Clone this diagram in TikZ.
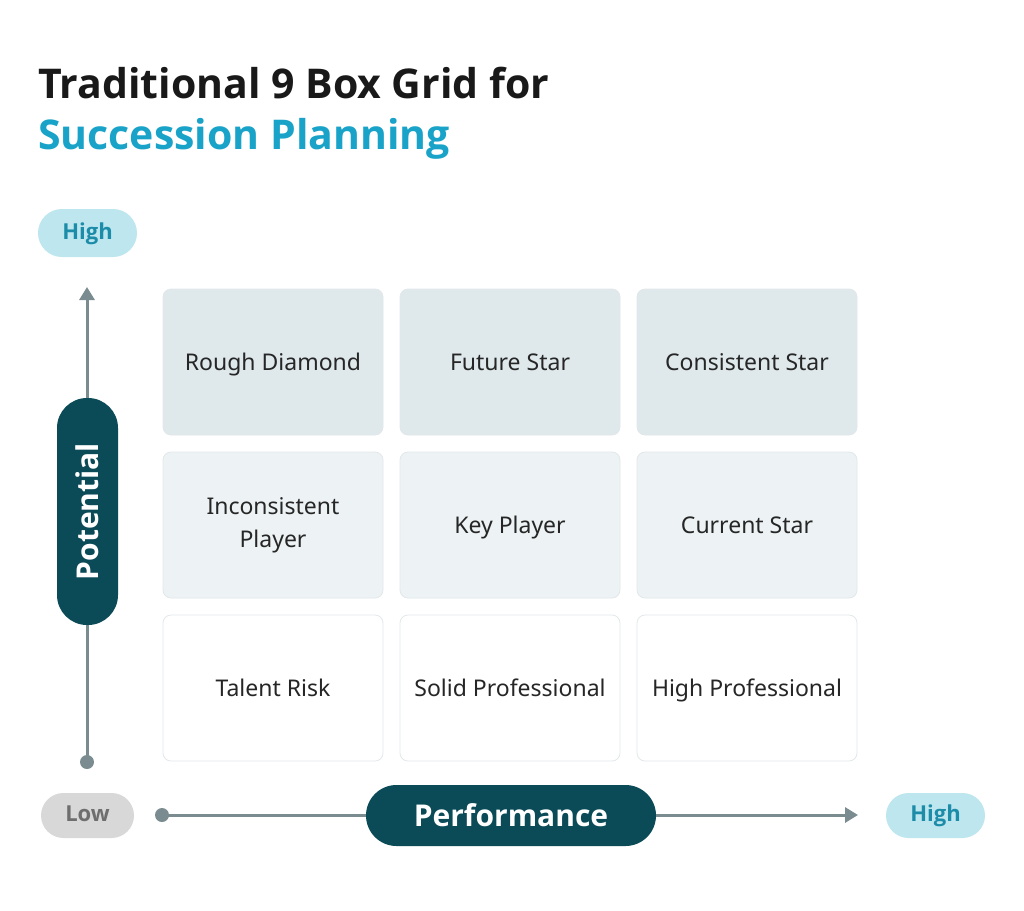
\documentclass[tikz,border=0pt]{standalone}
\usepackage{fontspec}
\setmainfont{Noto Sans}
\newfontfamily\titlefont{Open Sans}
\usetikzlibrary{arrows.meta}
\definecolor{darkteal}{HTML}{0B4A57}
\definecolor{titleblue}{HTML}{1AA3C8}
\definecolor{pillblue}{HTML}{BDE6EF}
\definecolor{pilltext}{HTML}{1D8CA8}
\definecolor{pillgray}{HTML}{D8D8D8}
\definecolor{graytext}{HTML}{6E6E6E}
\definecolor{axisgray}{HTML}{7A8C90}
\definecolor{rowA}{HTML}{DFE9EC}
\definecolor{rowB}{HTML}{EDF3F4}
\definecolor{rowC}{HTML}{FFFFFF}
\definecolor{cellborder}{HTML}{E2E8EA}
\tikzset{
  cell/.style={draw=cellborder, line width=0.8pt, rounded corners=8pt, minimum width=220pt, minimum height=146pt, inner sep=0pt, align=center, font=\fontsize{23}{33}\selectfont, text=black!85},
  oneline/.style={text height=17pt, text depth=1pt},
  pill/.style={rounded corners=24pt, minimum width=99pt, minimum height=48pt, inner sep=0pt, font=\titlefont\bfseries\fontsize{22}{24}\selectfont},
  axisline/.style={draw=axisgray, line width=3pt},
  bigpill/.style={fill=darkteal, text=white, inner sep=0pt, font=\titlefont\bfseries\fontsize{30}{34}\selectfont},
}
\begin{document}
\begin{tikzpicture}[x=1pt,y=-1pt]
\useasboundingbox[fill=white] (0,0) rectangle (1024,910);
% title
\node[anchor=base west, inner sep=0pt, font=\titlefont\bfseries\fontsize{41}{50}\selectfont, text=black!90] (t1) at (38,98) {Traditional 9 Box Grid for};
\node[anchor=base west, inner sep=0pt, font=\titlefont\bfseries\fontsize{41}{50}\selectfont, text=titleblue] (t2) at (38,149) {Succession Planning};
% cells
\node[cell, oneline, fill=rowA] (c11) at (273,362) {Rough Diamond};
\node[cell, oneline, fill=rowA] (c12) at (510,362) {Future Star};
\node[cell, oneline, fill=rowA] (c13) at (747,362) {Consistent Star};
\node[cell, fill=rowB] (c21) at (273,525) {Inconsistent\\Player};
\node[cell, oneline, fill=rowB] (c22) at (510,525) {Key Player};
\node[cell, oneline, fill=rowB] (c23) at (747,525) {Current Star};
\node[cell, oneline, fill=rowC] (c31) at (273,688) {Talent Risk};
\node[cell, oneline, fill=rowC] (c32) at (510,688) {Solid Professional};
\node[cell, oneline, fill=rowC] (c33) at (747,688) {High Professional};
% vertical axis
\coordinate (vbot) at (87,762);
\coordinate (vtop) at (87,287);
\draw[axisline, -{Triangle[length=13pt,width=15pt]}] (vbot) -- (vtop);
\fill[axisgray] (vbot) circle (7pt);
\node[bigpill, rounded corners=30pt, minimum width=61pt, minimum height=227pt] (pot) at (87.5,511.5) {};
\node[rotate=90, text=white, font=\titlefont\bfseries\fontsize{30}{34}\selectfont] (potl) at (pot.center) {Potential};
\node[pill, fill=pillblue, text=pilltext, text height=16pt, text depth=4pt] (vhigh) at (87.5,233) {High};
% horizontal axis
\coordinate (hleft) at (162,815);
\coordinate (hright) at (858,815);
\draw[axisline, -{Triangle[length=13pt,width=15pt]}] (hleft) -- (hright);
\fill[axisgray] (hleft) circle (7pt);
\node[bigpill, rounded corners=30.5pt, minimum width=290pt, minimum height=61pt] (perf) at (511,815.5) {Performance};
\node[pill, fill=pillgray, text=graytext, minimum width=93pt, minimum height=45pt, rounded corners=22.5pt, text height=16pt, text depth=4pt] (low) at (87.5,815.5) {Low};
\node[pill, fill=pillblue, text=pilltext, minimum width=99pt, minimum height=45pt, rounded corners=22.5pt, text height=16pt, text depth=4pt] (hhigh) at (935.5,815.5) {High};
\end{tikzpicture}
\end{document}
